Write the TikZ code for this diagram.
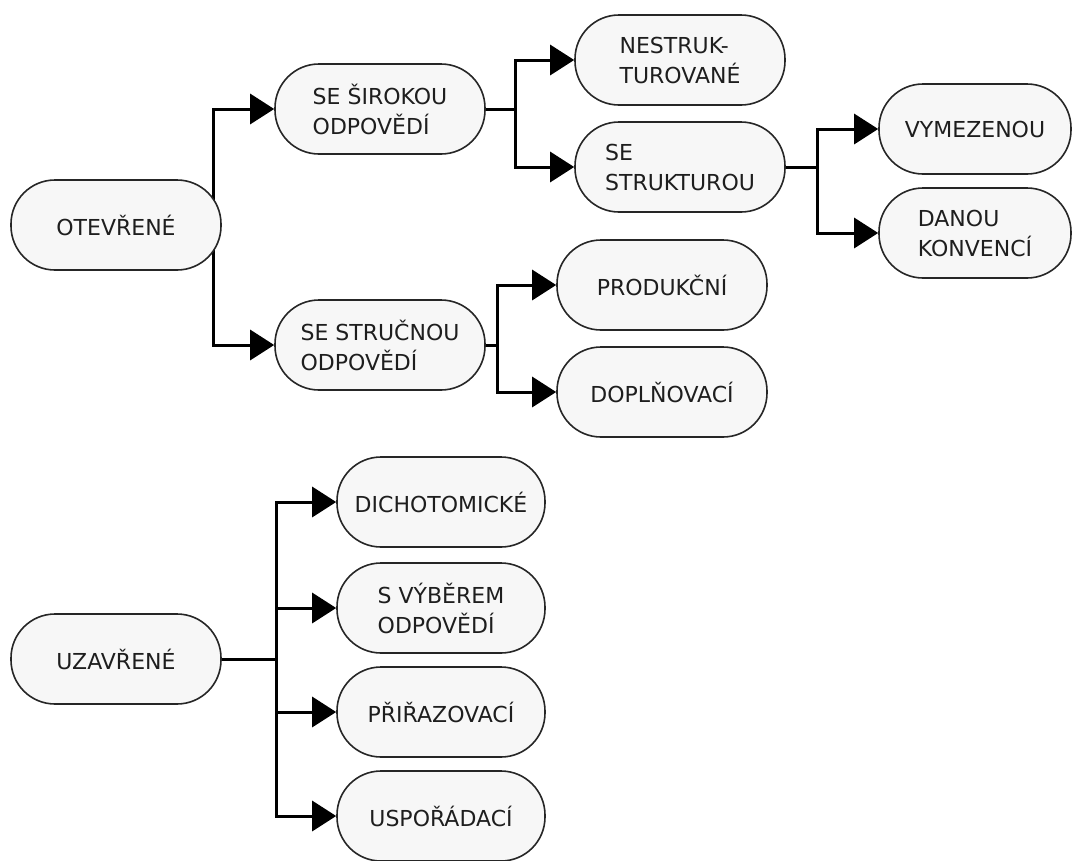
\documentclass[tikz,border=0pt]{standalone}
\usepackage{fontspec}
\setmainfont{DejaVu Sans}
\usepackage{tikz}
\usetikzlibrary{arrows.meta}
\usetikzlibrary{positioning}
\usetikzlibrary{backgrounds}
\definecolor{boxfill}{HTML}{F7F7F7}
\definecolor{boxline}{HTML}{262626}
\definecolor{boxtext}{HTML}{1E1E1E}
\tikzset{
    box/.style={draw=boxline, fill=boxfill, line width=1.6pt, rounded corners=44pt,
        minimum width=210pt, minimum height=90pt, align=left, text=boxtext,
        font=\fontsize{22}{30}\selectfont},
    link/.style={draw=black, line width=3pt},
    arrowlink/.style={link, -{Triangle[length=24pt,width=30pt]}},
}
\begin{document}
\begin{tikzpicture}[x=1pt, y=-1pt]
    \useasboundingbox (0,0) rectangle (1074,860);
    % open items
    \node[box] (otev) at (116,225) {OTEVŘENÉ};
    \node[box] (siroka) at (380,109) {SE ŠIROKOU\\ODPOVĚDÍ};
    \node[box] (strucna) at (380,345) {SE STRUČNOU\\ODPOVĚDÍ};
    \node[box] (nestruk) at (680,60) {NESTRUK-\\TUROVANÉ};
    \node[box] (struktura) at (680,167) {SE\\STRUKTUROU};
    \node[box, minimum width=192pt] (vymez) at (975,129) {VYMEZENOU};
    \node[box, minimum width=192pt] (danou) at (975,233) {DANOU\\KONVENCÍ};
    \node[box] (produkcni) at (662,285) {PRODUKČNÍ};
    \node[box] (doplnovaci) at (662,392) {DOPLŇOVACÍ};
    % closed items
    \node[box] (uzav) at (116,659) {UZAVŘENÉ};
    \node[box, minimum width=208pt] (dicho) at (441,502) {DICHOTOMICKÉ};
    \node[box, minimum width=208pt] (vyber) at (441,608) {S VÝBĚREM\\ODPOVĚDÍ};
    \node[box, minimum width=208pt] (prirazovaci) at (441,712) {PŘIŘAZOVACÍ};
    \node[box, minimum width=208pt] (usporadaci) at (441,816) {USPOŘÁDACÍ};
    \coordinate (forkA) at (213,225);
    \coordinate (forkB) at ([xshift=30pt]siroka.east);
    \coordinate (forkC) at ([xshift=32pt]struktura.east);
    \coordinate (forkD) at ([xshift=12pt]strucna.east);
    \coordinate (forkE) at ([xshift=55pt]uzav.east);
    \begin{pgfonlayer}{background}
        \draw[arrowlink] (forkA) |- (siroka.west);
        \draw[arrowlink] (forkA) |- (strucna.west);
        \draw[link] (siroka.east) -- (forkB);
        \draw[arrowlink] (forkB) |- (nestruk.west);
        \draw[arrowlink] (forkB) |- (struktura.west);
        \draw[link] (struktura.east) -- (forkC);
        \draw[arrowlink] (forkC) |- (vymez.west);
        \draw[arrowlink] (forkC) |- (danou.west);
        \draw[link] (strucna.east) -- (forkD);
        \draw[arrowlink] (forkD) |- (produkcni.west);
        \draw[arrowlink] (forkD) |- (doplnovaci.west);
        \draw[link] (uzav.east) -- (forkE);
        \draw[arrowlink] (forkE) |- (dicho.west);
        \draw[arrowlink] (forkE) |- (vyber.west);
        \draw[arrowlink] (forkE) |- (prirazovaci.west);
        \draw[arrowlink] (forkE) |- (usporadaci.west);
    \end{pgfonlayer}
\end{tikzpicture}
\end{document}
